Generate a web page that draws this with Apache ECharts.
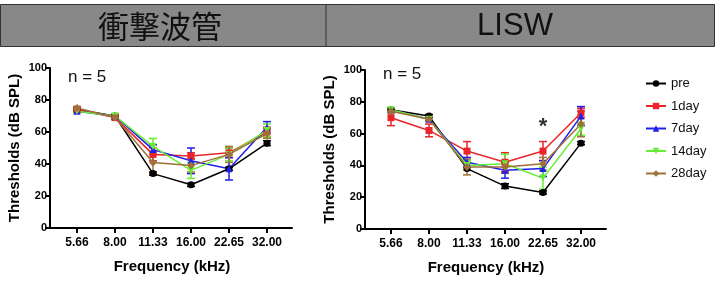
<!DOCTYPE html>
<html>
<head>
<meta charset="utf-8">
<script src="https://cdn.jsdelivr.net/npm/echarts@6/dist/echarts.min.js"></script>
<style>html,body{margin:0;padding:0;background:#fff;}#c{width:718px;height:281px;}</style>
</head>
<body>
<div id="c"></div>
<script>
const categories = ['5.66','8.00','11.33','16.00','22.65','32.00'];
const seriesNames = ['pre','1day','7day','14day','28day'];
const seriesColors = ['#000000','#e8252b','#1f1fe8','#66ee33','#a0703a'];
const seriesSymbols = ['circle','rect','triangle','path://M0,0L10,0L5,9Z','diamond'];
const yTicks = [0,20,40,60,80,100];
const panelTitles = ['衝撃波管','LISW'];

// 衝撃波管 panel: mean and error
const shockPre = [74,70,34,27,37,53];
const shockPreErr = [1,1,1,1,1,1.5];
const shock1day = [74,69,46,45,47,60];
const shock1dayErr = [1,1,4,2,3,3];
const shock7day = [73,70,49,42,37,63];
const shock7dayErr = [1,1,3,8,7,3.5];
const shock14day = [73,70,51,36,46,61];
const shock14dayErr = [1,1,5,5,4,4];
const shock28day = [75,69,41,39,46,59];
const shock28dayErr = [1,1,7,4,5,3];

// LISW panel
const liswPre = [75,71,38,27,23,54];
const liswPreErr = [1,1,1,1.5,1,1];
const lisw1day = [70,62,49,42,49,73];
const lisw1dayErr = [5,4,6,6,6,3];
const lisw7day = [75,69,42,37,38,71];
const lisw7dayErr = [1,1,3,5,5,6];
const lisw14day = [75,69,40,41,32,63];
const lisw14dayErr = [1,1,3,6,7,4];
const lisw28day = [74,69,39,39,41,66];
const lisw28dayErr = [1,1,5,4,4,8];

const panels = [
  {means:[shockPre,shock1day,shock7day,shock14day,shock28day], errs:[shockPreErr,shock1dayErr,shock7dayErr,shock14dayErr,shock28dayErr]},
  {means:[liswPre,lisw1day,lisw7day,lisw14day,lisw28day], errs:[liswPreErr,lisw1dayErr,lisw7dayErr,lisw14dayErr,lisw28dayErr]}
];
const starCategory = 4, starValue = 64;

const chart = echarts.init(document.getElementById('c'));
const FONT = '"Liberation Sans", Arial, sans-serif';

const grids = [
  {left:58, top:68, width:228, height:160},
  {left:50, top:68, width:242, height:160},
  {left:372, top:70, width:228, height:159},
  {left:365, top:70, width:241, height:159}
];
const xAxes = [], yAxes = [], series = [];
[0,1].forEach(p => {
  const gi = p*2;
  xAxes.push({
    type:'category', gridIndex:gi, data:categories, boundaryGap:true,
    axisLine:{show:false},
    axisTick:{show:true, alignWithLabel:true, interval:0, length:5, lineStyle:{color:'#000', width:2}},
    axisLabel:{interval:0, color:'#000', fontWeight:'bold', fontSize:12, fontFamily:FONT, margin:9},
    name:'Frequency (kHz)', nameLocation:'middle', nameGap:31,
    nameTextStyle:{color:'#000', fontWeight:'bold', fontSize:15, fontFamily:FONT},
    splitLine:{show:false}
  });
  xAxes.push({
    type:'value', gridIndex:gi+1, min:0, max:1,
    axisLine:{show:true, onZero:false, lineStyle:{color:'#000', width:2}},
    axisTick:{show:false}, axisLabel:{show:false}, splitLine:{show:false}
  });
  yAxes.push({
    type:'value', gridIndex:gi, min:yTicks[0], max:yTicks[yTicks.length-1], interval:20,
    offset: p===0 ? 8 : 7,
    axisLine:{show:true, lineStyle:{color:'#000', width:2}},
    axisTick:{show:true, length:5, lineStyle:{color:'#000', width:2}},
    axisLabel:{color:'#000', fontWeight:'bold', fontSize:11, fontFamily:FONT, margin:3},
    splitLine:{show:false},
    name:'Thresholds (dB SPL)', nameLocation:'middle', nameGap:28, nameRotate:90,
    nameTextStyle:{color:'#000', fontWeight:'bold', fontSize:15, fontFamily:FONT}
  });
  yAxes.push({type:'value', gridIndex:gi+1, min:0, max:1, show:false});

  const xi = p*2, yi = p*2;
  seriesNames.forEach((name, s) => {
    const means = panels[p].means[s], errs = panels[p].errs[s];
    series.push({
      type:'custom', name:name + ' SEM', xAxisIndex:xi, yAxisIndex:yi, z:3,
      data: means.map((m,i)=>[i, m-errs[i], m+errs[i]]),
      renderItem:(params, api) => {
        const lo = api.coord([api.value(0), api.value(1)]);
        const hi = api.coord([api.value(0), api.value(2)]);
        const w = 4;
        const st = {stroke:seriesColors[s], lineWidth:1.5};
        return {type:'group', children:[
          {type:'line', shape:{x1:lo[0],y1:lo[1],x2:hi[0],y2:hi[1]}, style:st},
          {type:'line', shape:{x1:lo[0]-w,y1:lo[1],x2:lo[0]+w,y2:lo[1]}, style:st},
          {type:'line', shape:{x1:hi[0]-w,y1:hi[1],x2:hi[0]+w,y2:hi[1]}, style:st}
        ]};
      },
      silent:true
    });
    series.push({
      type:'line', name:name, xAxisIndex:xi, yAxisIndex:yi, z:4,
      data: means, color:seriesColors[s],
      symbol:seriesSymbols[s], symbolSize: s===4?8:7, showAllSymbol:true,
      lineStyle:{width:1.5, color:seriesColors[s]},
      itemStyle:{color:seriesColors[s]},
      animation:false
    });
  });
});
// asterisk on the LISW panel
series.push({
  type:'scatter', name:'sig', xAxisIndex:2, yAxisIndex:2, symbolSize:0,
  data:[[starCategory, starValue]],
  label:{show:true, formatter:'*', position:'inside', color:'#000', fontSize:22, fontWeight:'bold', fontFamily:FONT},
  silent:true
});

chart.setOption({
  animation:false,
  backgroundColor:'#fff',
  grid:grids,
  xAxis:xAxes, yAxis:yAxes, series:series,
  legend:{
    data:seriesNames, orient:'vertical', left:640, top:72,
    itemWidth:20, itemHeight:8, itemGap:9.5,
    textStyle:{color:'#111', fontSize:13, fontFamily:FONT},
    selectedMode:false
  },
  graphic:[
    {type:'rect', shape:{x:0.5, y:4.5, width:714, height:42}, style:{fill:'#888888', stroke:'#333', lineWidth:1}, z:0},
    {type:'line', shape:{x1:326, y1:4.5, x2:326, y2:46.5}, style:{stroke:'#333', lineWidth:1}},
    {type:'text', style:{text:panelTitles[0], x:160, y:26, align:'center', verticalAlign:'middle', font:'31px "Noto Sans CJK JP"', fill:'#111'}},
    {type:'text', style:{text:panelTitles[1], x:515, y:26, align:'center', verticalAlign:'middle', font:'31px "Liberation Sans", Arial', fill:'#111'}},
    {type:'text', style:{text:'n = 5', x:68, y:77, verticalAlign:'middle', font:'17px "Liberation Sans", Arial', fill:'#111'}},
    {type:'text', style:{text:'n = 5', x:383, y:74, verticalAlign:'middle', font:'17px "Liberation Sans", Arial', fill:'#111'}}
  ]
});
</script>
</body>
</html>
